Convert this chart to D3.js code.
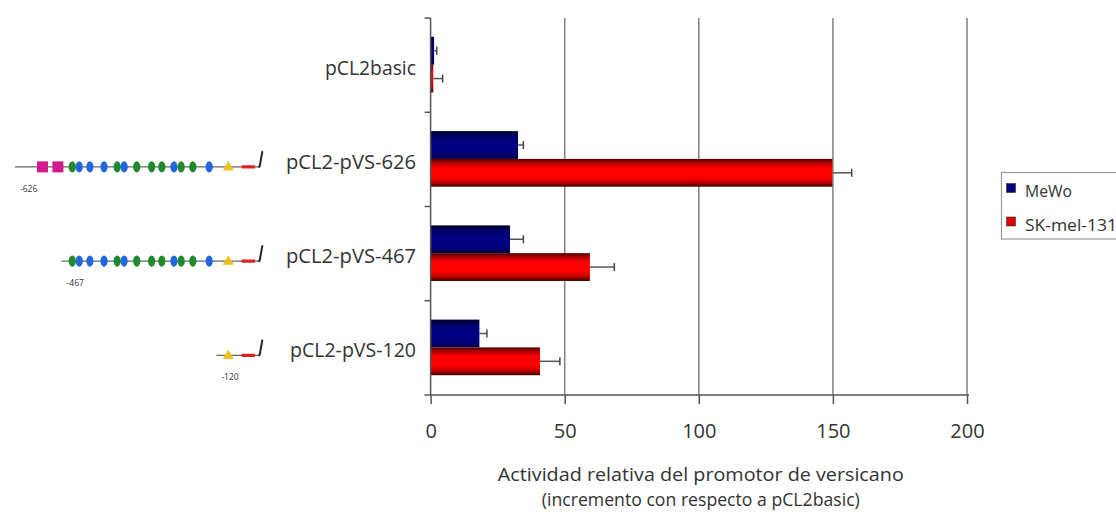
<!DOCTYPE html>
<html><head><meta charset="utf-8">
<script src="https://cdn.jsdelivr.net/npm/d3@7"></script>
<style>body{margin:0;background:#fff;} svg{display:block;} text{font-family:"Open Sans",sans-serif;fill:#333;}</style>
</head><body>
<svg id="c" width="1116" height="516"></svg>
<script>
const categories = ["pCL2basic","pCL2-pVS-626","pCL2-pVS-467","pCL2-pVS-120"];
const seriesNames = ["MeWo","SK-mel-131"];
const mewoValues = [1.3, 32.6, 29.6, 18.2];
const mewoErrors = [1.0, 2.0, 5.0, 2.8];
const skValues = [1.0, 149.8, 59.4, 40.8];
const skErrors = [3.5, 7.2, 9.1, 7.4];
const xTicks = [0, 50, 100, 150, 200];
const xTitle = ["Actividad relativa del promotor de versicano", "(incremento con respecto a pCL2basic)"];
// promoter schematic: element type and position (schematic units)
const siteTypes = ["box","box","green","blue","blue","blue","green","blue","green","green","green","blue","green","green","blue","tata"];
const sitePos   = [11.1,17.3,23.1,25.9,30.2,35.9,41.2,44.0,49.1,55.1,59.2,64.1,67.0,71.7,78.3,86.0];
const constructCats = ["pCL2-pVS-626","pCL2-pVS-467","pCL2-pVS-120"];
const constructStart = [0, 18.8, 81.2];
const constructLabels = ["-626","-467","-120"];

const svg = d3.select("#c");
const x = d3.scaleLinear().domain([0,200]).range([430.6,967]);
const y = d3.scaleBand().domain(categories).range([18,395]).padding(0);
const bw = y.bandwidth();
const ys = d3.scaleBand().domain(seriesNames).range([bw*0.2, bw*0.79]);
const sx = d3.scaleLinear().domain([0,100]).range([15,263]);

const defs = svg.append("defs");
const gr = defs.append("linearGradient").attr("id","gRed").attr("x1",0).attr("x2",0).attr("y1",0).attr("y2",1);
[[0,"#4a0000"],[0.14,"#b00000"],[0.32,"#ff0000"],[0.66,"#ff0000"],[0.84,"#c00000"],[1,"#3a0000"]].forEach(s=>gr.append("stop").attr("offset",s[0]).attr("stop-color",s[1]));
const gb = defs.append("linearGradient").attr("id","gBlue").attr("x1",0).attr("x2",0).attr("y1",0).attr("y2",1);
[[0,"#000028"],[0.18,"#000068"],[0.5,"#000088"],[0.82,"#000078"],[1,"#000040"]].forEach(s=>gb.append("stop").attr("offset",s[0]).attr("stop-color",s[1]));

// gridlines
svg.append("g").selectAll("line").data(xTicks.filter(d=>d>0)).join("line")
  .attr("x1",d=>x(d)).attr("x2",d=>x(d)).attr("y1",18).attr("y2",395)
  .attr("stroke","#808080").attr("stroke-width",1.5);

// bars
const series = [
  {name:"MeWo", vals:mewoValues, errs:mewoErrors, fill:"url(#gBlue)"},
  {name:"SK-mel-131", vals:skValues, errs:skErrors, fill:"url(#gRed)"}
];
series.forEach(s=>{
  const g = svg.append("g");
  g.selectAll("rect").data(categories).join("rect")
    .attr("x",x(0)).attr("y",c=>y(c)+ys(s.name))
    .attr("width",(c,i)=>x(s.vals[i])-x(0)).attr("height",ys.bandwidth())
    .attr("fill",s.fill);
  g.selectAll("line.e").data(categories).join("line").attr("class","e")
    .attr("x1",(c,i)=>x(s.vals[i])).attr("x2",(c,i)=>x(s.vals[i]+s.errs[i]))
    .attr("y1",c=>y(c)+ys(s.name)+ys.bandwidth()/2).attr("y2",c=>y(c)+ys(s.name)+ys.bandwidth()/2)
    .attr("stroke","#555").attr("stroke-width",1.5);
  g.selectAll("line.c").data(categories).join("line").attr("class","c")
    .attr("x1",(c,i)=>x(s.vals[i]+s.errs[i])).attr("x2",(c,i)=>x(s.vals[i]+s.errs[i]))
    .attr("y1",c=>y(c)+ys(s.name)+ys.bandwidth()/2-4).attr("y2",c=>y(c)+ys(s.name)+ys.bandwidth()/2+4)
    .attr("stroke","#444").attr("stroke-width",1.5);
});

// left axis line and ticks
svg.append("line").attr("x1",x(0)).attr("x2",x(0)).attr("y1",18).attr("y2",395).attr("stroke","#555").attr("stroke-width",1.5);
svg.append("g").selectAll("line").data(categories).join("line")
  .attr("x1",x(0)-6).attr("x2",x(0)).attr("y1",c=>y(c)).attr("y2",c=>y(c))
  .attr("stroke","#555").attr("stroke-width",1.5);

// bottom axis
const xa = svg.append("g").attr("transform","translate(0,395)")
  .call(d3.axisBottom(x).tickValues(xTicks).tickSize(9).tickPadding(30).tickSizeOuter(0));
xa.select(".domain").attr("stroke","#555").attr("stroke-width",1.5).attr("d",`M${x(0)-6},0H${x(200)+2}`);
xa.selectAll(".tick line").attr("stroke","#555").attr("stroke-width",1.5);
xa.selectAll(".tick text").attr("font-size",20).attr("font-family","Open Sans").attr("fill","#333").attr("dy","0.2em");

// category labels
const catWidths = [91,130,130,126];
svg.append("g").selectAll("text").data(categories).join("text")
  .attr("x",416).attr("y",c=>y(c)+bw/2+9.5).attr("text-anchor","end")
  .attr("font-size",20).attr("textLength",(c,i)=>catWidths[i]).attr("lengthAdjust","spacingAndGlyphs")
  .text(c=>c);

// x title
const tW = [406,318];
svg.append("g").selectAll("text").data(xTitle).join("text")
  .attr("x",x(100)+2).attr("y",(d,i)=>481+i*25).attr("text-anchor","middle")
  .attr("font-size",18).attr("textLength",(d,i)=>tW[i]).attr("lengthAdjust","spacingAndGlyphs")
  .text(d=>d);

// legend
const lg = svg.append("g");
lg.append("rect").attr("x",1001.5).attr("y",172.5).attr("width",130).attr("height",66.5)
  .attr("fill","#fff").attr("stroke","#999").attr("stroke-width",1.2);
const legColors = ["#000080","#e00000"];
const legW = [47,92];
seriesNames.forEach((n,i)=>{
  lg.append("rect").attr("x",1006.5).attr("y",183.5+i*33.5).attr("width",9).attr("height",9)
    .attr("fill",legColors[i]).attr("stroke","#333").attr("stroke-width",0.6);
  lg.append("text").attr("x",1025).attr("y",197+i*33.5).attr("font-size",16)
    .attr("textLength",legW[i]).attr("lengthAdjust","spacingAndGlyphs").text(n);
});

// promoter schematics
const colors = {box:"#d4198c", green:"#1e8a2c", blue:"#2266dd", tata:"#f2c01c"};
constructCats.forEach((cat,k)=>{
  const ly = y(cat)+bw/2+7.5;
  const g = svg.append("g");
  const x0 = sx(constructStart[k]);
  g.append("line").attr("x1",x0).attr("x2",sx(98.5)).attr("y1",ly).attr("y2",ly).attr("stroke","#666").attr("stroke-width",1.2);
  sitePos.forEach((p,i)=>{
    if (p < constructStart[k]) return;
    const t = siteTypes[i], cx = sx(p);
    if (t==="box") g.append("rect").attr("x",cx-5.5).attr("y",ly-5.5).attr("width",11).attr("height",11).attr("fill",colors.box);
    else if (t==="tata") g.append("path").attr("d",`M${cx},${ly-6}L${cx+5.5},${ly+3.5}L${cx-5.5},${ly+3.5}Z`).attr("fill",colors.tata);
    else g.append("ellipse").attr("cx",cx).attr("cy",ly).attr("rx",3.6).attr("ry",5.6).attr("fill",colors[t]);
  });
  g.append("rect").attr("x",sx(91.4)).attr("y",ly-1.6).attr("width",sx(96.8)-sx(91.4)).attr("height",3.2).attr("fill","#e02020");
  g.append("path").attr("d",`M${sx(98.5)},${ly}L${sx(98.5)+1},${ly-3}M${sx(98.5)+1},${ly-4}L${sx(98.5)+3},${ly-15}`)
    .attr("stroke","#222").attr("stroke-width",2).attr("fill","none").attr("stroke-linecap","round");
  g.append("text").attr("x",x0+5).attr("y",ly+25).attr("font-size",8.5).attr("fill","#444").text(constructLabels[k]);
});
</script>
</body></html>
